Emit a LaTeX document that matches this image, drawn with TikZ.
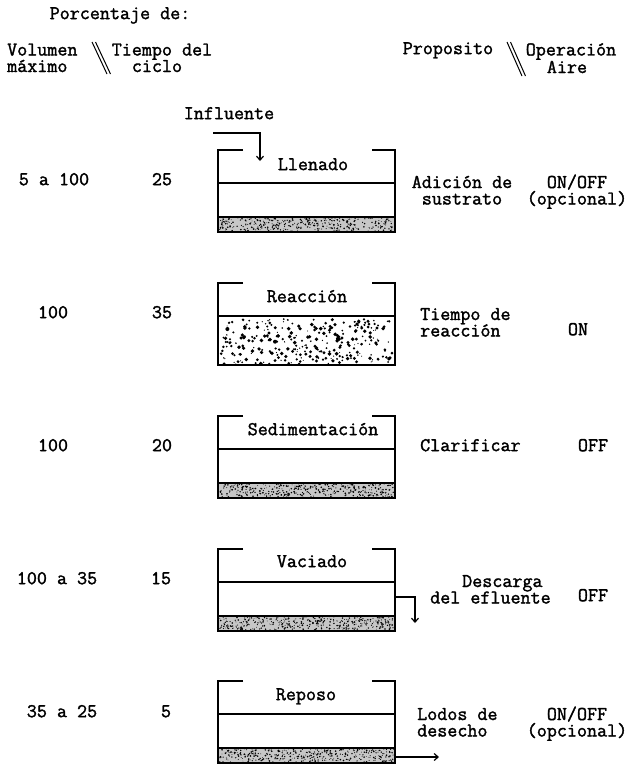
\documentclass[tikz,border=0pt]{standalone}
\usepackage{fontspec}
\newfontfamily\cour[UprightFeatures={FakeBold=1.6}]{Latin Modern Mono}
\usetikzlibrary{arrows.meta}
\begin{document}
\begin{tikzpicture}[x=1pt,y=-1pt,
  txt/.style={font=\cour\fontsize{19.5}{16.5}\selectfont, inner sep=0pt, text height=11pt, text depth=0pt, anchor=mid},
  txtw/.style={txt, anchor=mid west},
  mtxt/.style={font=\cour\fontsize{19.5}{16.5}\selectfont, inner sep=0pt, align=center, anchor=base},
  mtxtw/.style={mtxt, align=left, anchor=base west},
  wall/.style={line width=1.5pt, line join=miter},
  arr/.style={line width=1.2pt, -{Straight Barb[length=4pt,width=7pt]}},
  slash/.style={line width=1pt}]
\useasboundingbox (0,0) rectangle (626,764);
% header
\node[txt] (hdr) at (120,17) {Porcentaje de:};
\node[mtxtw] (vol) at (7,72) {Volumen\\máximo};
\draw[slash] (92,42) -- (107,74);
\draw[slash] (95.5,42) -- (110.5,74);
\node[mtxt] (tc) at (162,72) {Tiempo del\\ciclo\hspace*{10pt}};
\node[txt] (pro) at (448,52) {Proposito};
\draw[slash] (507,42) -- (522,76);
\draw[slash] (510.5,42) -- (525.5,76);
\node[mtxt] (op) at (571,73) {Operación\\Aire\hspace*{8pt}};
% tanks
\foreach \t in {150,283,416,549,681} {
  \draw[wall] (243,\t) -- (218,\t) -- (218,\t+82) -- (395,\t+82) -- (395,\t) -- (372,\t);
  \draw[wall] (218,\t+33) -- (395,\t+33);
}
% sludge bands
\pgfmathsetseed{11}
\foreach \t in {150,416,549,681} {
  \fill[black!22] (219,\t+67) rectangle (394,\t+81);
  \foreach \i in {1,...,380} {
    \pgfmathsetmacro{\dx}{219.5+rnd*174}
    \pgfmathsetmacro{\dy}{\t+67.5+rnd*13.5}
    \pgfmathsetmacro{\dr}{0.35+rnd*0.6}
    \fill (\dx,\dy) circle[radius=\dr pt];
  }
  \draw[wall] (218,\t+67) -- (395,\t+67);
  \draw[wall] (218,\t+82) -- (395,\t+82);
}
% reaction dots
\pgfmathsetseed{5}
\foreach \i in {1,...,300} {
  \pgfmathsetmacro{\dx}{221+rnd*171}
  \pgfmathsetmacro{\dy}{319+rnd*45}
  \pgfmathsetmacro{\dr}{0.5+rnd*1.5}
  \fill (\dx,\dy) circle[radius=\dr pt];
}
% tank labels
\node[txt] (t1) at (313,168) {Llenado};
\node[txt] (t2) at (307,300) {Reacción};
\node[txt] (t3) at (313,433) {Sedimentación};
\node[txt] (t4) at (312,565) {Vaciado};
\node[txt] (t5) at (306,698) {Reposo};
% influent
\node[txt] (inf) at (229,117) {Influente};
\coordinate (inA) at (213,133);
\coordinate (inB) at (260,161);
\draw[arr] (inA) -| (inB);
% outlets
\coordinate (o4a) at (395,597);
\coordinate (o4b) at (415,623);
\draw[arr] (o4a) -| (o4b);
\coordinate (o5a) at (395,757);
\coordinate (o5b) at (439,757);
\draw[arr] (o5a) -- (o5b);
% left columns
\node[txt] (a1) at (54,183) {5 a 100};
\node[txt] (b1) at (162,183) {25};
\node[txt] (a2) at (53,316) {100};
\node[txt] (b2) at (162,316) {35};
\node[txt] (a3) at (53,449) {100};
\node[txt] (b3) at (162,449) {20};
\node[txt] (a4) at (57,582) {100 a 35};
\node[txt] (b4) at (161,582) {15};
\node[txt] (a5) at (62,715) {35 a 25};
\node[txt] (b5) at (166,715) {5};
% right columns
\node[mtxt] (p1) at (462,204.5) {Adición de\\sustrato};
\node[mtxt] (q1) at (577,204.5) {ON/OFF\\(opcional)};
\node[mtxtw] (p2) at (420,336.5) {Tiempo de\\reacción};
\node[txt] (q2) at (578,333) {ON};
\node[txtw] (p3) at (420,449) {Clarificar};
\node[txt] (q3) at (593,449) {OFF};
\node[mtxtw] (p4) at (430,603.5) {\hspace*{32pt}Descarga\\del efluente};
\node[txt] (q4) at (593,599) {OFF};
\node[mtxtw] (p5) at (417,736.5) {Lodos de\\desecho};
\node[mtxt] (q5) at (577,736.5) {ON/OFF\\(opcional)};
\end{tikzpicture}
\end{document}
